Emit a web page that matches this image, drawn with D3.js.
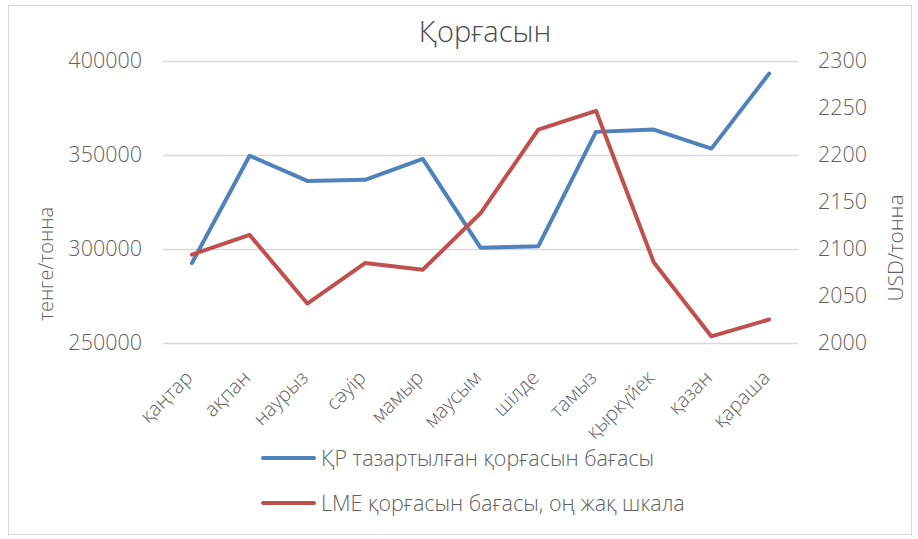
<!DOCTYPE html>
<html>
<head>
<meta charset="utf-8">
<script src="https://cdn.jsdelivr.net/npm/d3@7"></script>
<style>
  body { margin: 0; background: #fff; }
  text { font-family: "Open Sans", "Noto Sans", sans-serif; font-weight: 300; fill: #5f5f5f; }
</style>
</head>
<body>
<svg id="chart" width="918" height="539"></svg>
<script>
const months = ['қаңтар', 'ақпан', 'наурыз', 'сәуір', 'мамыр', 'маусым',
    'шілде', 'тамыз', 'қыркүйек', 'қазан', 'қараша'];
const kzPrice = [292500, 349600, 336200, 336800, 347900, 300700,
    301400, 362300, 363500, 353400, 393300];
const lmePrice = [2094, 2115, 2042, 2085, 2078, 2138,
    2227, 2247, 2086, 2007, 2025];
const leftTicks = [250000, 300000, 350000, 400000];
const rightTicks = [2000, 2050, 2100, 2150, 2200, 2250, 2300];

const blue = '#4f81bd';
const red = '#c0504d';

const svg = d3.select('#chart');
const plot = { left: 163, right: 798, top: 61, bottom: 343 };

// рамка диаграммы
svg.append('rect')
    .attr('x', 8.5).attr('y', 5.5)
    .attr('width', 903).attr('height', 529)
    .attr('fill', 'none').attr('stroke', '#d9d9d9');

const x = d3.scaleBand().domain(months).range([plot.left, plot.right]);
const yL = d3.scaleLinear().domain([250000, 400000]).range([plot.bottom, plot.top]);
const yR = d3.scaleLinear().domain([2000, 2300]).range([plot.bottom, plot.top]);
const cx = d => x(d) + x.bandwidth() / 2;

// сетка
svg.append('g').selectAll('line').data(leftTicks).join('line')
    .attr('x1', plot.left).attr('x2', plot.right)
    .attr('y1', d => Math.round(yL(d)) + 0.5).attr('y2', d => Math.round(yL(d)) + 0.5)
    .attr('stroke', '#d9d9d9').attr('stroke-width', 1.3);

// оси
const axL = svg.append('g').attr('transform', `translate(${plot.left - 21},0)`)
    .call(d3.axisLeft(yL).tickValues(leftTicks).tickSize(0).tickPadding(0).tickFormat(d3.format('d')));
const axR = svg.append('g').attr('transform', `translate(${plot.right + 20},0)`)
    .call(d3.axisRight(yR).tickValues(rightTicks).tickSize(0).tickPadding(0).tickFormat(d3.format('d')));
[axL, axR].forEach(a => {
    a.select('.domain').remove();
    a.selectAll('text').style('font-size', '21.5px').style('fill', '#5f5f5f')
        .style('font-family', '"Open Sans", sans-serif').style('font-weight', 300);
});

const axB = svg.append('g').attr('transform', `translate(0,${plot.bottom})`)
    .call(d3.axisBottom(x).tickSize(0).tickPadding(0));
axB.select('.domain').remove();
axB.selectAll('text')
    .style('font-size', '20px').style('fill', '#5f5f5f')
    .style('font-family', '"Open Sans", sans-serif').style('font-weight', 300)
    .attr('text-anchor', 'end')
    .attr('dy', 0)
    .attr('transform', 'translate(2,36) rotate(-45)');

// линии
const lineL = d3.line().x((d, i) => cx(months[i])).y(d => yL(d));
const lineR = d3.line().x((d, i) => cx(months[i])).y(d => yR(d));
svg.append('path').datum(kzPrice).attr('d', lineL)
    .attr('fill', 'none').attr('stroke', blue).attr('stroke-width', 4)
    .attr('stroke-linejoin', 'round').attr('stroke-linecap', 'round');
svg.append('path').datum(lmePrice).attr('d', lineR)
    .attr('fill', 'none').attr('stroke', red).attr('stroke-width', 4)
    .attr('stroke-linejoin', 'round').attr('stroke-linecap', 'round');

// заголовки
svg.append('text').attr('x', 485).attr('y', 42)
    .attr('text-anchor', 'middle').style('font-size', '29px').style('fill', '#4a4a4a')
    .text('Қорғасын');
svg.append('text').attr('transform', 'translate(53,264) rotate(-90)')
    .attr('text-anchor', 'middle').style('font-size', '20px')
    .text('тенге/тонна');
svg.append('text').attr('transform', 'translate(903,248) rotate(-90)')
    .attr('text-anchor', 'middle').style('font-size', '21px')
    .text('USD/тонна');

// легенда
const legend = [
    { name: 'ҚР тазартылған қорғасын бағасы', color: blue, y: 458 },
    { name: 'LME қорғасын бағасы, оң жақ шкала', color: red, y: 503 }
];
const lg = svg.append('g').selectAll('g').data(legend).join('g')
    .attr('transform', d => `translate(262,${d.y})`);
lg.append('line').attr('x1', 1).attr('x2', 52)
    .attr('stroke', d => d.color).attr('stroke-width', 4).attr('stroke-linecap', 'round');
lg.append('text').attr('x', 59).attr('dy', '0.35em')
    .style('font-size', '21.5px').text(d => d.name);
</script>
</body>
</html>
